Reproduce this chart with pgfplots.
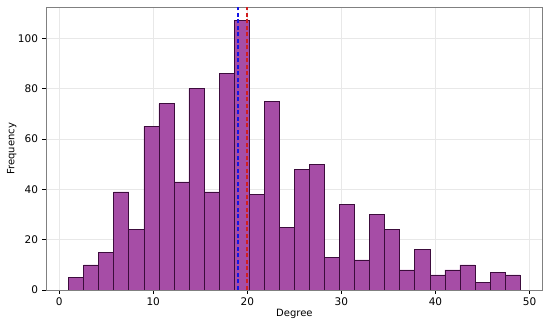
\documentclass[border=0pt]{standalone}
\usepackage{pgfplots}
\pgfplotsset{compat=1.18}
\usepackage{fontspec}
\setmainfont{DejaVu Sans}
\definecolor{barfill}{RGB}{166,77,166}
\definecolor{baredge}{RGB}{60,12,60}
\definecolor{spine}{RGB}{128,128,128}
\definecolor{meanblue}{RGB}{20,20,230}
\definecolor{lineRed}{RGB}{210,30,30}
\begin{document}
\begin{tikzpicture}
\useasboundingbox (-46pt,-37pt) rectangle (504pt,290pt);
\begin{axis}[
  at={(0,0)}, anchor=south west,
  scale only axis,
  width=496.7pt, height=282.7pt,
  xmin=-1.4, xmax=51.4, ymin=0, ymax=112.35,
  xtick={0,10,...,50}, ytick={0,20,...,100},
  tick pos=left,
  tick align=outside, major tick length=3.5pt,
  tick style={black, line width=0.6pt},
  axis line style={spine, line width=0.8pt},
  grid=major,
  major grid style={black!9, line width=0.6pt},
  every tick label/.append style={font=\fontsize{10.5}{12}\selectfont},
  label style={font=\fontsize{10.5}{12}\selectfont},
  /pgf/number format/assume math mode=true,
  xticklabel style={yshift=-1pt},
  yticklabel style={xshift=-1pt},
  xlabel={Degree}, ylabel={Frequency},
  every axis x label/.style={at={([yshift=-24pt]axis description cs:0.5,0)}, anchor=center},
  every axis y label/.style={at={([xshift=-34.3pt]axis description cs:0,0.5)}, anchor=center, rotate=90},
]
\addplot[ybar interval, fill=barfill, draw=baredge, line width=0.6pt] coordinates {
(1,5) (2.6,10) (4.2,15) (5.8,39) (7.4,24) (9,65) (10.6,74) (12.2,43) (13.8,80) (15.4,39)
(17,86) (18.6,107) (20.2,38) (21.8,75) (23.4,25) (25,48) (26.6,50) (28.2,13) (29.8,34) (31.4,12)
(33,30) (34.6,24) (36.2,8) (37.8,16) (39.4,6) (41,8) (42.6,10) (44.2,3) (45.8,7) (47.4,6) (49,6)
};
\addplot[color=meanblue, line width=1.6pt, dash pattern=on 4pt off 2.5pt, mark=none] coordinates {(19.0,0) (19.0,112.35)};
\addplot[color=lineRed, line width=1.9pt, dash pattern=on 4pt off 2.5pt, mark=none] coordinates {(20.0,0) (20.0,112.35)};
\end{axis}
\end{tikzpicture}
\end{document}
